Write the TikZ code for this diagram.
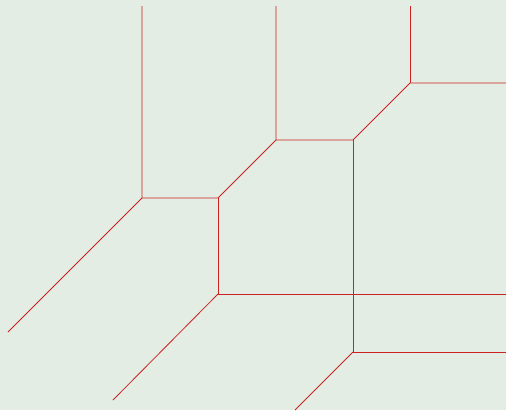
\documentclass[tikz,border=0pt]{standalone}
\begin{document}
\begin{tikzpicture}[x=1pt,y=-1pt,edge/.style={draw={rgb,255:red,204;green,34;blue,34},line width=0.8pt}]
\definecolor{bg}{RGB}{228,237,227}
\fill[bg] (0,0) rectangle (506,410);
\useasboundingbox (0,0) rectangle (506,410);
\coordinate (t1) at (142,6);
\coordinate (t2) at (276,6);
\coordinate (t3) at (410,6);
\coordinate (A) at (142,198);
\coordinate (B) at (218,198);
\coordinate (C) at (218,294);
\coordinate (D) at (276,140);
\coordinate (E) at (353,140);
\coordinate (F) at (410,83);
\coordinate (G) at (506,83);
\coordinate (H) at (353,352);
\coordinate (I) at (506,352);
\coordinate (J) at (506,294);
\coordinate (K) at (8,332);
\coordinate (L) at (113,400);
\coordinate (M) at (295,410);
\begin{scope}
\clip (0,0) rectangle (506,410);
\draw[edge] (t1) -- (A) -- (K);
\draw[edge] (A) -- (B) -- (D);
\draw[edge] (B) -- (C) -- (J);
\draw[edge] (C) -- (L);
\draw[edge] (t2) -- (D) -- (E) -- (F) -- (G);
\draw[edge] (t3) -- (F);
\draw[edge] (E) -- (H) -- (I);
\draw[edge] (H) -- (M);
\end{scope}
\end{tikzpicture}
\end{document}
